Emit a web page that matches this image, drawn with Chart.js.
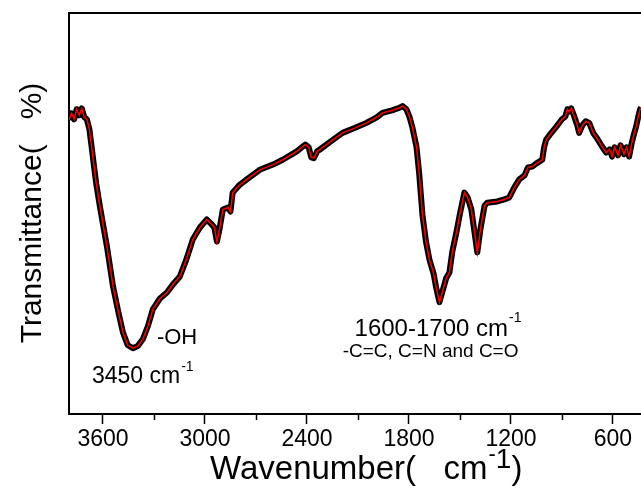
<!DOCTYPE html>
<html>
<head>
<meta charset="utf-8">
<script src="https://cdn.jsdelivr.net/npm/chart.js@4.4.1/dist/chart.umd.min.js"></script>
<style>
  body { margin: 0; background: #fff; }
  canvas { display: block; }
</style>
</head>
<body>
<canvas id="ftirChart" width="641" height="491"></canvas>
<script>
// wavenumber (cm-1) and transmittance (arbitrary %)
const wavenumbers = [3800, 3785, 3770, 3755, 3740, 3725, 3710, 3695, 3680, 3665, 3655, 3640, 3618, 3577, 3541, 3510, 3483, 3455, 3424, 3395, 3365, 3335, 3307, 3265, 3224, 3185, 3148, 3110, 3072, 3030, 2989, 2965, 2945, 2930, 2915, 2895, 2865, 2850, 2837, 2800, 2754, 2678, 2600, 2543, 2460, 2410, 2390, 2375, 2360, 2340, 2326, 2260, 2191, 2120, 2050, 1990, 1956, 1900, 1860, 1838, 1815, 1797, 1780, 1756, 1740, 1721, 1700, 1680, 1668, 1655, 1640, 1621, 1600, 1580, 1562, 1545, 1521, 1500, 1474, 1455, 1433, 1415, 1398, 1380, 1355, 1339, 1280, 1240, 1210, 1180, 1151, 1120, 1100, 1075, 1050, 1016, 1005, 993, 965, 934, 900, 880, 868, 858, 845, 830, 810, 799, 780, 760, 740, 715, 690, 664, 640, 620, 605, 590, 570, 555, 535, 520, 505, 490, 475, 464, 452, 441, 435];
const transmittance = [73.4, 75.0, 73.5, 76.0, 74.5, 76.2, 74.0, 73.5, 71.0, 66.0, 62.5, 57.5, 51.7, 41.8, 31.8, 25.5, 20.4, 17.2, 16.4, 17.0, 18.7, 22.0, 26.1, 28.8, 30.3, 32.5, 34.3, 38.5, 43.5, 46.5, 48.5, 47.5, 46.5, 43.0, 46.0, 51.0, 51.5, 50.5, 55.2, 57.0, 58.5, 60.9, 62.2, 63.4, 65.5, 67.2, 66.5, 64.0, 63.8, 65.5, 65.9, 68.0, 70.1, 71.3, 72.6, 74.0, 75.1, 75.7, 76.3, 76.8, 76.0, 74.1, 71.5, 66.7, 60.0, 49.8, 43.0, 38.6, 36.8, 35.0, 31.5, 27.9, 31.0, 34.0, 35.3, 40.5, 45.3, 50.0, 55.2, 54.0, 51.0, 45.5, 40.3, 46.0, 52.0, 52.7, 53.0, 53.5, 54.0, 56.5, 58.5, 59.5, 61.5, 61.7, 62.5, 63.4, 66.5, 68.4, 70.0, 71.6, 73.5, 74.2, 76.0, 75.4, 76.2, 74.5, 72.0, 70.1, 72.0, 73.0, 72.6, 70.0, 68.5, 66.7, 65.2, 66.0, 64.2, 66.5, 64.5, 67.0, 64.8, 66.5, 64.2, 67.5, 70.0, 71.6, 74.0, 75.9, 76.5];

const majorTicks = [3600, 3000, 2400, 1800, 1200, 600];
const minorTicks = [3300, 2700, 2100, 1500, 900];

// annotation texts: [main, superscript, x (cm-1), y (%), font size]
const notes = [
  ["-OH", "", 3283, 19, 22],
  ["3450 cm", "-1", 3665, 9.2, 23],
  ["1600-1700 cm", "-1", 2120, 21.2, 24],
  ["-C=C, C=N and C=O", "", 2190, 15.5, 19]
];

const FONT = "'Liberation Sans', Arial, sans-serif";
const points = wavenumbers.map((w, i) => ({ x: w, y: transmittance[i] }));

const textPlugin = {
  id: "ftirText",
  afterDraw(chart) {
    const ctx = chart.ctx;
    const xs = chart.scales.x, ys = chart.scales.y;
    const area = chart.chartArea;
    ctx.save();
    ctx.fillStyle = "#000";
    ctx.strokeStyle = "#000";

    // top frame line
    ctx.lineWidth = 2;
    ctx.beginPath();
    ctx.moveTo(area.left - 1, area.top);
    ctx.lineTo(chart.width, area.top);
    ctx.stroke();

    // minor ticks
    ctx.lineWidth = 1.5;
    minorTicks.forEach(v => {
      const px = Math.round(xs.getPixelForValue(v)) + 0.5;
      ctx.beginPath();
      ctx.moveTo(px, area.bottom);
      ctx.lineTo(px, area.bottom + 6);
      ctx.stroke();
    });

    // annotations
    ctx.textBaseline = "middle";
    ctx.textAlign = "left";
    notes.forEach(n => {
      const px = xs.getPixelForValue(n[2]);
      const py = ys.getPixelForValue(n[3]);
      ctx.font = n[4] + "px " + FONT;
      ctx.fillText(n[0], px, py);
      if (n[1]) {
        const w = ctx.measureText(n[0]).width;
        ctx.font = Math.round(n[4] * 0.6) + "px " + FONT;
        ctx.fillText(n[1], px + w + 1, py - n[4] * 0.45);
      }
    });

    // x title
    ctx.textBaseline = "alphabetic";
    ctx.font = "33px " + FONT;
    const a = "Wavenumber(   cm";
    let tx = 210;
    const ty = 479;
    ctx.fillText(a, tx, ty);
    tx += ctx.measureText(a).width;
    ctx.font = "22px " + FONT;
    ctx.fillText("-", tx + 1, ty - 18);
    tx += ctx.measureText("-").width + 1;
    ctx.font = "28px " + FONT;
    ctx.fillText("1", tx, ty - 11);
    tx += ctx.measureText("1").width;
    ctx.font = "33px " + FONT;
    ctx.fillText(")", tx, ty);

    // y title
    ctx.translate(41, 213);
    ctx.rotate(-Math.PI / 2);
    ctx.textAlign = "center";
    ctx.font = "30px " + FONT;
    ctx.fillText("Transmittance(   %)", 0, 0);
    ctx.restore();
  }
};

const config = {
  type: "line",
  data: {
    datasets: [
      {
        label: "red",
        data: points,
        borderColor: "#ff0000",
        borderWidth: 1.5,
        pointRadius: 0,
        tension: 0,
        fill: false
      },
      {
        label: "black",
        data: points,
        borderColor: "#000000",
        borderWidth: 6,
        borderJoinStyle: "round",
        pointRadius: 0,
        tension: 0,
        fill: false
      }
    ]
  },
  options: {
    responsive: false,
    animation: false,
    layout: { padding: { top: 13, right: 0, left: 0, bottom: 0 } },
    plugins: {
      legend: { display: false },
      tooltip: { enabled: false }
    },
    scales: {
      x: {
        type: "linear",
        reverse: true,
        min: 435,
        max: 3800,
        afterFit: s => { s.height = 77; },
        afterBuildTicks: s => { s.ticks = majorTicks.map(v => ({ value: v })); },
        ticks: {
          color: "#000",
          font: { family: FONT, size: 23 },
          padding: 2,
          maxRotation: 0,
          autoSkip: false,
          callback: v => String(v)
        },
        grid: {
          drawOnChartArea: false,
          drawTicks: true,
          tickLength: 10,
          tickWidth: 1.5,
          tickColor: "#000"
        },
        border: { color: "#000", width: 2 }
      },
      y: {
        min: 0,
        max: 100,
        afterFit: s => { s.width = 69; },
        ticks: { display: false },
        grid: { display: false },
        border: { color: "#000", width: 2 }
      }
    }
  },
  plugins: [textPlugin]
};

new Chart(document.getElementById("ftirChart"), config);
</script>
</body>
</html>
